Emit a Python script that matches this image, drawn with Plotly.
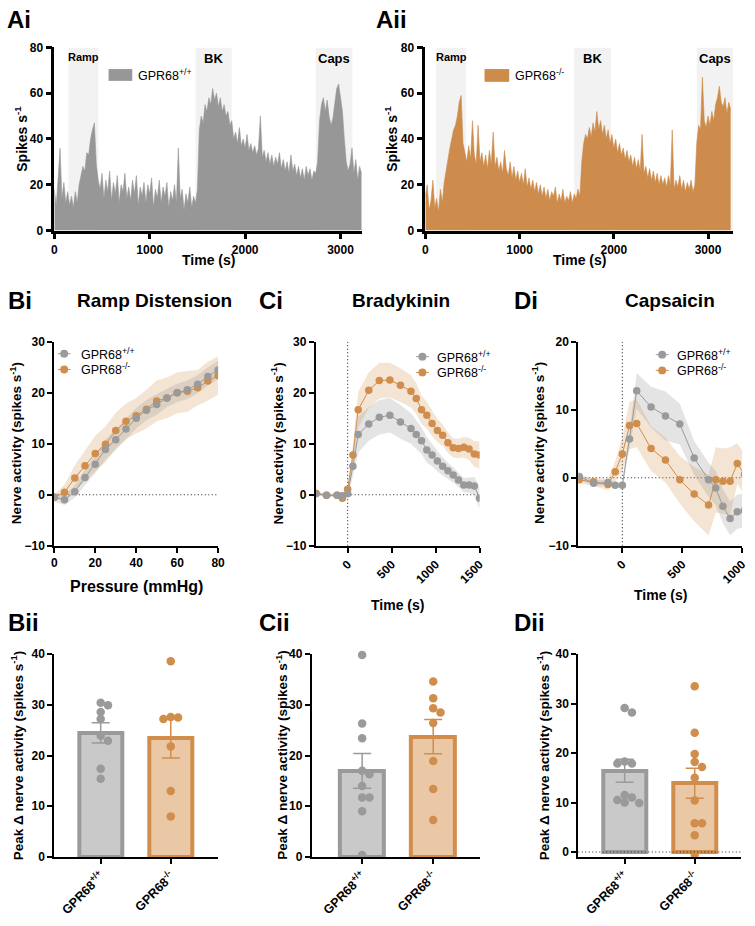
import numpy as np
import plotly.graph_objects as go

# ======================= DATA =======================
# Panel A: raw whole-nerve firing rate (spikes/s), 20-s bins
ai_rate = [18, 11, 23, 36, 14, 21, 12, 17,
           11, 15, 10, 17, 12, 20, 24, 28,
           26, 34, 33, 40, 44, 47, 29, 22,
           18, 25, 14, 22, 17, 26, 13, 21,
           16, 24, 12, 20, 17, 25, 14, 19,
           13, 22, 16, 24, 11, 19, 15, 21,
           12, 20, 16, 23, 10, 18, 14, 22,
           12, 19, 15, 21, 10, 17, 13, 20,
           12, 36, 14, 18, 9, 16, 12, 19,
           10, 15, 12, 18,
           44, 50, 47, 55, 52, 58, 55, 62, 57, 60, 54, 58, 52, 55, 50, 52, 46,
           48, 40, 43, 38, 45, 37, 40, 36, 42, 35, 38, 34, 37, 33, 36, 50, 32, 35, 30, 34,
           29, 33, 28, 32, 29, 34, 27, 31, 26, 30, 25, 33, 26, 29, 24, 28, 23, 27, 22, 28,
           24, 27, 22, 26, 25,
           30, 48, 55, 58, 52, 57, 50, 46, 49, 57, 62, 64, 58, 52, 40, 30, 26, 29, 36, 25,
           31, 22, 28, 25]
aii_rate = [15, 20, 9, 13, 22, 10, 14, 8, 18, 12, 21,
            26, 32, 36, 40, 44, 46, 50, 56, 59, 38,
            34, 30, 37, 31, 48, 33, 29, 46, 30, 34,
            28, 33, 27, 35, 29, 43, 28, 32, 26, 30,
            25, 35, 27, 24, 30, 23, 28, 22, 26, 21,
            25, 20, 27, 19, 23, 18, 22, 17, 21, 16,
            20, 15, 19, 14, 18, 13, 17, 15, 19, 12,
            16, 13, 18, 12, 15, 13, 17, 12, 16, 14,
            18, 15,
            30, 38, 42, 40, 45, 41, 47, 43, 52, 44,
            48, 42, 46, 40, 44, 38, 42, 36, 40, 34,
            38, 33, 36, 31, 35, 30, 33, 28, 32, 27,
            31, 26, 42, 25, 28, 23, 27, 22, 26, 21,
            25, 20, 24, 20, 23, 19, 24, 20, 44, 18,
            22, 19, 24, 18, 22, 17, 21, 18, 22, 17,
            20,
            38, 46, 44, 67, 48, 45, 50, 46, 52, 48, 55, 58, 63, 56, 54, 58, 51, 56, 53]
trace_bin_s = 20
region_labels = ["Ramp", "BK", "Caps"]
ai_region_start = [148, 1480, 2740]
ai_region_end = [462, 1860, 3125]
aii_region_start = [115, 1580, 2880]
aii_region_end = [430, 1970, 3270]

# Bi: ramp distension
ramp_pressure = [0, 5, 10, 15, 20, 25, 30, 35, 40, 45, 50, 55, 60, 65, 70, 75, 80]
ramp_wt = [-0.5, -1.0, 0.6, 3.4, 6.0, 8.9, 10.8, 12.9, 15.0, 16.6, 17.7, 19.0, 20.0, 20.6, 21.7, 23.2, 24.5]
ramp_wt_sem = [0.8, 1.0, 1.2, 1.5, 1.8, 2.0, 2.0, 2.0, 2.0, 2.0, 2.0, 1.8, 1.8, 1.8, 1.8, 1.8, 1.8]
ramp_ko = [-0.5, 0.5, 3.3, 5.7, 8.1, 9.9, 12.6, 14.4, 15.5, 16.8, 18.4, 19.0, 20.0, 20.3, 21.0, 22.3, 23.4]
ramp_ko_sem = [0.5, 1.5, 2.5, 3.0, 3.5, 3.5, 3.5, 3.5, 3.5, 3.8, 4.0, 4.0, 4.0, 4.0, 3.5, 3.8, 3.8]

# Ci: bradykinin
bk_time = [-360, -240, -120, -60, 0, 60, 120, 240, 360, 480, 600, 720, 780, 840, 900,
           960, 1020, 1080, 1140, 1200, 1260, 1320, 1380, 1440, 1500]
bk_wt = [0.2, -0.1, -0.1, -0.2, 0.2, 5.6, 11.8, 13.9, 15.2, 15.6, 14.3, 13.0, 11.8, 10.6, 8.8,
         7.8, 6.6, 5.6, 4.7, 3.9, 2.9, 1.9, 1.9, 1.7, -0.7]
bk_wt_sem = [0.3, 0.3, 0.3, 0.3, 0.5, 2.0, 3.5, 3.3, 3.4, 3.4, 3.3, 3.0, 2.8, 2.6, 2.5,
             2.2, 2.0, 1.8, 1.6, 1.5, 1.4, 1.4, 1.5, 1.8, 2.2]
bk_ko = [0.3, -0.1, -0.1, -0.7, 1.1, 7.8, 16.7, 20.5, 22.4, 22.5, 21.5, 20.3, 18.9, 16.7, 15.6,
         14.0, 12.6, 11.7, 10.2, 9.2, 9.1, 9.3, 9.0, 8.0, 7.8]
bk_ko_sem = [0.4, 0.3, 0.3, 0.5, 0.8, 2.0, 3.5, 3.5, 3.5, 3.4, 3.3, 3.2, 3.0, 2.8, 2.6,
             2.5, 2.3, 2.1, 2.0, 1.9, 1.9, 2.0, 2.2, 2.5, 2.7]

# Di: capsaicin
caps_time = [-360, -240, -120, -60, 0, 60, 120, 240, 360, 480, 600, 720, 780, 840, 900, 960, 1020]
caps_wt = [0.2, -0.8, -0.7, -1.1, -1.1, 5.7, 12.8, 10.4, 9.1, 7.9, 2.9, -0.3, -1.5, -4.2, -6.0, -5.0, -4.8]
caps_wt_sem = [0.4, 0.4, 0.4, 0.4, 0.4, 1.2, 2.6, 3.0, 3.6, 3.0, 2.5, 2.5, 2.5, 2.5, 2.5, 2.5, 2.5]
caps_ko = [-0.3, -0.6, -1.0, 0.9, 3.5, 7.7, 8.0, 4.3, 2.6, -0.3, -2.4, -4.0, -0.3, -0.5, -0.5, 2.1, 0.5]
caps_ko_sem = [0.5, 0.6, 0.8, 1.5, 2.5, 3.5, 3.5, 3.3, 3.3, 3.5, 4.0, 4.5, 4.8, 4.8, 5.0, 3.0, 3.0]

# Bii/Cii/Dii: peak change in nerve activity, individual preparations
group_labels = ["GPR68<sup>+/+</sup>", "GPR68<sup>-/-</sup>"]
ramp_peak_wt = [30.4, 29.9, 28.6, 27.2, 23.9, 22.9, 17.4, 15.4]
ramp_peak_ko = [38.6, 27.6, 27.2, 27.5, 21.8, 13.0, 8.0]
bk_peak_wt = [39.8, 26.3, 23.4, 17.0, 16.3, 14.0, 11.7, 11.7, 9.0, 0.4]
bk_peak_ko = [34.6, 31.3, 28.5, 29.3, 26.4, 18.9, 13.4, 7.3]
caps_peak_wt = [28.2, 29.1, 17.9, 17.9, 18.3, 11.5, 9.9, 11.0, 10.0, 10.5]
caps_peak_ko = [33.5, 24.1, 19.8, 17.2, 18.2, 15.0, 10.4, 5.8, 5.8, 3.4, -0.5]

# ======================= STYLE =======================
W, H = 755, 926
FONT = "Liberation Sans, Arial, Helvetica, sans-serif"
GREY = "#9a9a9a"
ORANGE = "#d08d4b"
GREY_FILL_TRACE = "#979797"
ORANGE_FILL_TRACE = "#cd8c4b"
GREY_BAND = "rgba(150,150,150,0.26)"
ORANGE_BAND = "rgba(214,150,85,0.26)"
GREY_BAR = "#c9c9c9"
ORANGE_BAR = "#eac8a6"
SHADE = "#f2f2f2"


def px_x(p):
    return p / W


def px_y(p):
    return 1 - p / H


def dom_x(a, b):
    return [a / W, b / W]


def dom_y(top, bottom):
    return [1 - bottom / H, 1 - top / H]


def axis(domain, rng, anchor, lw=2, tl=5, **kw):
    d = dict(domain=domain, range=rng, anchor=anchor, showline=True, linecolor="black",
             linewidth=lw, ticks="outside", ticklen=tl, tickwidth=lw, tickcolor="black",
             showgrid=False, zeroline=False, fixedrange=True,
             tickfont=dict(family=FONT, size=12, color="black", weight="bold"))
    d.update(kw)
    return d


fig = go.Figure()
shapes = []
ann = []


def text(px, py, s, size, bold=True, xanchor="center", yanchor="middle", angle=0):
    ann.append(dict(x=px_x(px), y=px_y(py), xref="paper", yref="paper",
                    text=f"<b>{s}</b>" if bold else s, showarrow=False,
                    font=dict(family=FONT, size=size, color="black"),
                    xanchor=xanchor, yanchor=yanchor, textangle=angle))


# ---------------- Panel A ----------------
for rate, color, xa, ya, starts, ends in [
        (ai_rate, GREY_FILL_TRACE, "x", "y", ai_region_start, ai_region_end),
        (aii_rate, ORANGE_FILL_TRACE, "x2", "y2", aii_region_start, aii_region_end)]:
    t = [i * trace_bin_s for i in range(len(rate))]
    fig.add_trace(go.Scatter(x=t, y=rate, mode="lines", fill="tozeroy",
                             line=dict(color=color, width=0.6), fillcolor=color,
                             xaxis=xa, yaxis=ya, hoverinfo="skip"))
    for lab, s0, s1 in zip(region_labels, starts, ends):
        shapes.append(dict(type="rect", xref=xa, yref=ya, x0=s0, x1=s1, y0=0, y1=80,
                           fillcolor=SHADE, line=dict(width=0), layer="below"))
        ann.append(dict(x=(s0 + s1) / 2, y=80, xref=xa, yref=ya, text=f"<b>{lab}</b>",
                        showarrow=False, yanchor="top", yshift=-2,
                        font=dict(family=FONT, size=11 if lab == "Ramp" else 13, color="black")))

# legends of panel A
shapes.append(dict(type="rect", xref="paper", yref="paper", x0=px_x(107), x1=px_x(131),
                   y0=px_y(75), y1=px_y(63), fillcolor=GREY_FILL_TRACE, line=dict(width=0)))
text(135, 69, "GPR68<sup>+/+</sup>", 12.5, bold=False, xanchor="left")
shapes.append(dict(type="rect", xref="paper", yref="paper", x0=px_x(488), x1=px_x(513),
                   y0=px_y(76), y1=px_y(63), fillcolor=ORANGE_FILL_TRACE, line=dict(width=0)))
text(517, 69, "GPR68<sup>-/-</sup>", 12.5, bold=False, xanchor="left")


# ---------------- Panels Bi / Ci / Di ----------------
def band(x, m, s, bandcolor, xa, ya):
    up = [a + b for a, b in zip(m, s)]
    lo = [a - b for a, b in zip(m, s)]
    fig.add_trace(go.Scatter(x=list(x) + list(x)[::-1], y=up + lo[::-1], fill="toself",
                             mode="none", fillcolor=bandcolor, xaxis=xa, yaxis=ya,
                             hoverinfo="skip"))


def line_pts(x, m, color, xa, ya):
    fig.add_trace(go.Scatter(x=x, y=m, mode="lines+markers",
                             line=dict(color=color, width=1),
                             marker=dict(color=color, size=7.5), xaxis=xa, yaxis=ya))


for (x, wt, wts, ko, kos, xa, ya) in [
        (ramp_pressure, ramp_wt, ramp_wt_sem, ramp_ko, ramp_ko_sem, "x3", "y3"),
        (bk_time, bk_wt, bk_wt_sem, bk_ko, bk_ko_sem, "x4", "y4"),
        (caps_time, caps_wt, caps_wt_sem, caps_ko, caps_ko_sem, "x5", "y5")]:
    band(x, ko, kos, ORANGE_BAND, xa, ya)
    band(x, wt, wts, GREY_BAND, xa, ya)
    line_pts(x, ko, ORANGE, xa, ya)
    line_pts(x, wt, GREY, xa, ya)

# dotted reference lines
dot = dict(color="#222222", width=1.1, dash="1px,2.5px")
shapes.append(dict(type="line", xref="x3", yref="y3", x0=0, x1=80, y0=0, y1=0, line=dot, layer="below"))
shapes.append(dict(type="line", xref="x4", yref="y4", x0=0, x1=1500, y0=0, y1=0, line=dot, layer="below"))
shapes.append(dict(type="line", xref="x4", yref="y4", x0=0, x1=0, y0=-10, y1=30, line=dot, layer="below"))
shapes.append(dict(type="line", xref="x5", yref="y5", x0=-368, x1=1000, y0=0, y1=0, line=dot, layer="below"))
shapes.append(dict(type="line", xref="x5", yref="y5", x0=0, x1=0, y0=-10, y1=20, line=dot, layer="below"))


def legend_rows(mx, tx, rows):
    for (ry, color, lab) in rows:
        shapes.append(dict(type="line", xref="paper", yref="paper", x0=px_x(mx - 6.5),
                           x1=px_x(mx + 6.5), y0=px_y(ry), y1=px_y(ry),
                           line=dict(color=color, width=1)))
        shapes.append(dict(type="circle", xref="paper", yref="paper", x0=px_x(mx - 4),
                           x1=px_x(mx + 4), y0=px_y(ry + 4), y1=px_y(ry - 4),
                           fillcolor=color, line=dict(width=0)))
        text(tx, ry, lab, 12.5, bold=False, xanchor="left")


legend_rows(62, 77, [(352, GREY, group_labels[0]), (368, ORANGE, group_labels[1])])
legend_rows(425, 438, [(355, GREY, group_labels[0]), (371, ORANGE, group_labels[1])])
legend_rows(668, 681, [(353, GREY, group_labels[0]), (369, ORANGE, group_labels[1])])


# ---------------- Bar panels ----------------
def swarm(values, ppu_y, ppu_x, diam=7.2, step=7.4):
    order = np.argsort(values)[::-1]
    placed = []
    offs = [0.0] * len(values)
    for i in order:
        v = values[i]
        for k in [0, 1, -1, 2, -2, 3, -3]:
            ox = k * step
            ok = all((ox - px) ** 2 + ((v - pv) * ppu_y) ** 2 >= diam ** 2 for px, pv in placed)
            if ok:
                break
        placed.append((ox, v))
        offs[i] = ox / ppu_x
    return offs


def bar_panel(wt, ko, xa, ya, ppu_y, ppu_x):
    for ci, (vals, edge, fill) in enumerate([(wt, GREY, GREY_BAR), (ko, ORANGE, ORANGE_BAR)]):
        arr = np.array(vals)
        mean = arr.mean()
        sem = arr.std(ddof=1) / np.sqrt(len(arr))
        fig.add_trace(go.Bar(x=[ci], y=[mean], width=0.62, marker=dict(color=fill, line=dict(color=edge, width=4)),
                             error_y=dict(type="data", array=[sem], color=edge, thickness=1.5, width=9),
                             xaxis=xa, yaxis=ya))
        offs = swarm(vals, ppu_y, ppu_x)
        fig.add_trace(go.Scatter(x=[ci + o for o in offs], y=vals, mode="markers",
                                 marker=dict(color=edge, size=8.5), xaxis=xa, yaxis=ya,
                                 cliponaxis=False))


bar_panel(ramp_peak_wt, ramp_peak_ko, "x6", "y6", 5.15, 71)
bar_panel(bk_peak_wt, bk_peak_ko, "x7", "y7", 5.15, 72)
bar_panel(caps_peak_wt, caps_peak_ko, "x8", "y8", 5.02, 71)
shapes.append(dict(type="line", xref="x8", yref="y8", x0=-0.662, x1=1.662, y0=0, y1=0, line=dot, layer="above"))

# ---------------- Text ----------------
text(2, 13, "Ai", 24, xanchor="left")
text(376, 13, "Aii", 24, xanchor="left")
text(3, 298, "Bi", 24, xanchor="left")
text(257, 298, "Ci", 24, xanchor="left")
text(516, 298, "Di", 24, xanchor="left")
text(3, 625, "Bii", 24, xanchor="left")
text(257, 625, "Cii", 24, xanchor="left")
text(516, 625, "Dii", 24, xanchor="left")

text(154, 298, "Ramp Distension", 19)
text(403, 298, "Bradykinin", 19)
text(676, 298, "Capsaicin", 19)

text(18, 134, "Spikes s<sup>-1</sup>", 14, angle=-90)
text(393, 134, "Spikes s<sup>-1</sup>", 14, angle=-90)
text(208, 257, "Time (s)", 14)
text(584, 257, "Time (s)", 14)

for xp in [13, 278, 543]:
    text(xp, 443, "Nerve activity (spikes s<sup>-1</sup>)", 13.5, angle=-90)
text(135, 588, "Pressure (mmHg)", 16)
text(400, 607, "Time (s)", 14)
text(666, 597, "Time (s)", 14)

for xp in [14, 282, 547]:
    text(xp, 760, "Peak Δ nerve activity (spikes s<sup>-1</sup>)", 13.5, angle=-90)

# ---------------- Layout ----------------
lay = dict(
    width=W, height=H, margin=dict(l=0, r=0, t=0, b=0),
    paper_bgcolor="white", plot_bgcolor="white", showlegend=False,
    font=dict(family=FONT, color="black"),
    shapes=shapes, annotations=ann, bargap=0,
)
top_y = dom_y(41, 227)
lay["xaxis"] = axis(dom_x(52, 364), [0, 3227], "y", lw=2.5, tl=6, tickvals=[0, 1000, 2000, 3000])
lay["yaxis"] = axis(top_y, [0, 80], "x", lw=2.5, tl=6, tickvals=[0, 20, 40, 60, 80])
lay["xaxis2"] = axis(dom_x(428, 740), [0, 3267], "y2", lw=2.5, tl=6, tickvals=[0, 1000, 2000, 3000])
lay["yaxis2"] = axis(top_y, [0, 80], "x2", lw=2.5, tl=6, tickvals=[0, 20, 40, 60, 80])

mid_y = dom_y(340, 547)
lay["xaxis3"] = axis(dom_x(52, 218), [0, 80], "y3", tickvals=[0, 20, 40, 60, 80])
lay["yaxis3"] = axis(mid_y, [-10, 30], "x3", tickvals=[-10, 0, 10, 20, 30])
lay["xaxis4"] = axis(dom_x(317, 483), [-362, 1500], "y4", tickvals=[0, 500, 1000, 1500], tickangle=-45)
lay["yaxis4"] = axis(mid_y, [-10, 30], "x4", tickvals=[-10, 0, 10, 20, 30])
lay["xaxis5"] = axis(dom_x(583, 749), [-368, 1000], "y5", tickvals=[0, 500, 1000], tickangle=-45)
lay["yaxis5"] = axis(mid_y, [-10, 20], "x5", tickvals=[-10, 0, 10, 20])

bot_y = dom_y(657, 863)
cat_font = dict(family=FONT, size=12.5, color="black", weight="bold")
lay["xaxis6"] = axis(dom_x(52, 218), [-0.662, 1.676], "y6", tickvals=[0, 1], ticktext=group_labels,
                     tickangle=-45, tickfont=cat_font)
lay["yaxis6"] = axis(bot_y, [0, 40], "x6", tickvals=[0, 10, 20, 30, 40])
lay["xaxis7"] = axis(dom_x(313, 483), [-0.708, 1.653], "y7", tickvals=[0, 1], ticktext=group_labels,
                     tickangle=-45, tickfont=cat_font)
lay["yaxis7"] = axis(bot_y, [0, 40], "x7", tickvals=[0, 10, 20, 30, 40])
lay["xaxis8"] = axis(dom_x(583, 748), [-0.662, 1.662], "y8", tickvals=[0, 1], ticktext=group_labels,
                     tickangle=-45, tickfont=cat_font)
lay["yaxis8"] = axis(bot_y, [-1, 40], "x8", tickvals=[0, 10, 20, 30, 40])

fig.update_layout(**lay)
fig.write_html("out.html")
